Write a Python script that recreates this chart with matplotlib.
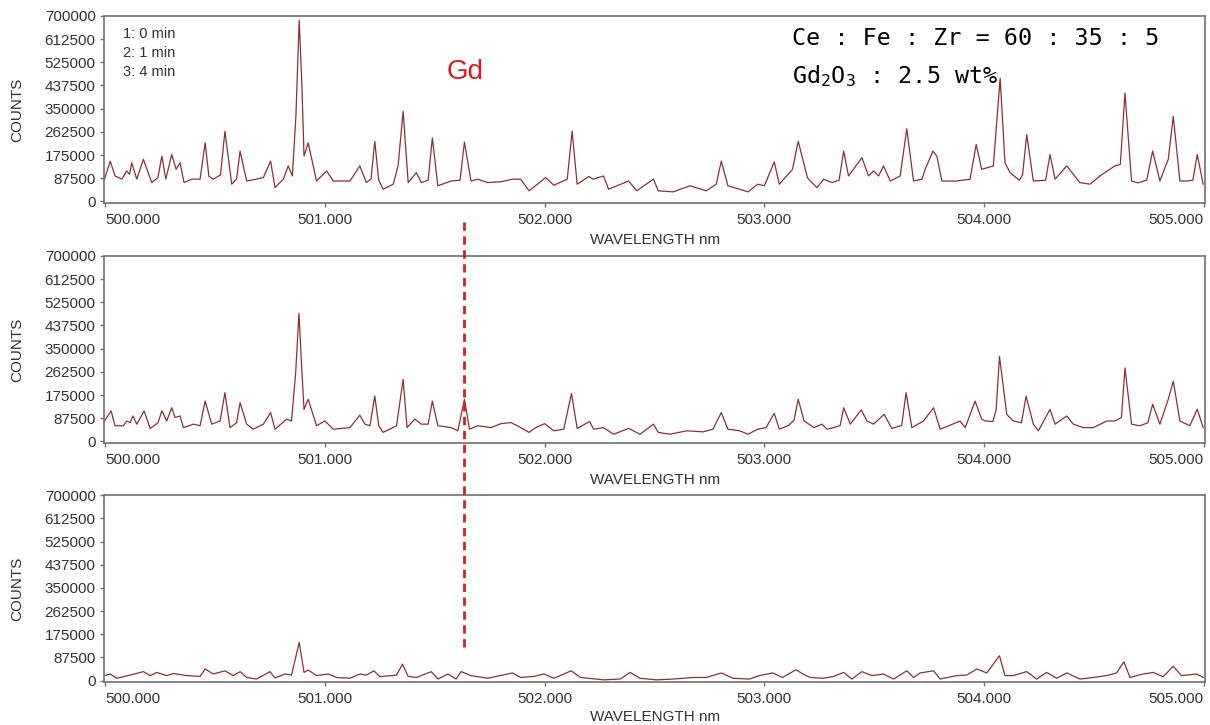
"""
Three stacked emission spectra (0 / 1 / 4 min) around 500-505 nm,
with the Gd line marked by a red dashed guide.
Saved as: out.png
"""
import numpy as np
import matplotlib
matplotlib.use("Agg")
import matplotlib.pyplot as plt
import matplotlib.transforms as mtransforms
from matplotlib.lines import Line2D

plt.rcParams["font.family"] = ["Liberation Sans", "DejaVu Sans"]
plt.rcParams["mathtext.fontset"] = "custom"
plt.rcParams["mathtext.rm"] = "DejaVu Sans Mono"
plt.rcParams["mathtext.it"] = "DejaVu Sans Mono"

LINE_COL = "#8e3030"
SPINE_COL = "#707070"
TEXT_COL = "#333333"
GD_COL = "#e3161b"

# ── Spectrum 1 : 0 min  (wavelength nm, counts in thousands) ──────────────
WL_0MIN = [
    499.997, 500.023, 500.045, 500.076, 500.098, 500.111, 500.121, 500.144, 500.174, 500.212,
    500.240,
    500.258, 500.276, 500.303, 500.323, 500.341, 500.359, 500.394, 500.432, 500.455, 500.472,
    500.492,
    500.525, 500.545, 500.576, 500.598, 500.614, 500.644, 500.689, 500.720, 500.753, 500.773,
    500.811, 500.833,
    500.852, 500.868, 500.883, 500.895, 500.905, 500.924, 500.962, 501.008, 501.038, 501.114,
    501.159, 501.189, 501.210, 501.227, 501.245, 501.265, 501.311, 501.333, 501.356, 501.379,
    501.416, 501.439,
    501.470, 501.489, 501.514, 501.575, 501.615, 501.635, 501.665, 501.695, 501.741, 501.801,
    501.854, 501.891,
    501.929, 502.005, 502.042, 502.103, 502.125, 502.148, 502.201, 502.220, 502.268, 502.291,
    502.382, 502.419, 502.495, 502.517, 502.585, 502.661, 502.736, 502.781, 502.804, 502.834,
    502.887, 502.925, 502.970, 503.000, 503.045, 503.068, 503.128, 503.154, 503.196, 503.209,
    503.239, 503.270, 503.308, 503.340, 503.361, 503.383, 503.444, 503.474, 503.497, 503.520,
    503.542,
    503.573, 503.618, 503.648, 503.679, 503.717, 503.732, 503.767, 503.785, 503.808, 503.876,
    503.936, 503.964, 503.989, 504.042, 504.073, 504.095, 504.118, 504.160, 504.175, 504.194,
    504.224, 504.280, 504.300,
    504.323, 504.376, 504.436, 504.482, 504.527, 504.595, 504.620, 504.641, 504.671, 504.700,
    504.740, 504.767, 504.800,
    504.838, 504.861, 504.891, 504.921, 504.950, 504.970, 504.997,
]
CT_0MIN = [
    84, 152, 96, 84, 115, 102, 146, 84, 159, 71,
    90,
    171, 84, 177, 121, 146, 71, 84, 84, 221, 95,
    84,
    100, 265, 65, 85, 190, 77, 84, 90, 152, 52,
    84, 134,
    96, 321, 684, 446, 171, 221, 77, 115, 77, 77,
    134, 71, 85, 227, 80, 46, 65, 134, 340, 71,
    109, 71,
    80, 240, 59, 77, 80, 224, 77, 84, 71, 74,
    84, 84,
    40, 90, 61, 84, 265, 65, 94, 84, 96, 46,
    77, 40, 84, 40, 36, 59, 40, 65, 152, 59,
    46, 36, 65, 59, 149, 65, 121, 227, 90, 77,
    52, 84, 71, 80, 190, 96, 165, 96, 115, 96,
    134,
    77, 96, 274, 77, 84, 121, 190, 171, 77, 77,
    84, 215, 121, 134, 465, 146, 109, 80, 100, 252,
    77, 80, 177,
    84, 134, 71, 65, 96, 134, 140, 409, 77, 70,
    80, 190, 77,
    159, 321, 77, 77, 80, 177, 65,
]

# ── Spectrum 2 : 1 min ────────────────────────────────────────────────────
WL_1MIN = [
    499.997, 500.027, 500.045, 500.083, 500.098, 500.114, 500.126, 500.144, 500.177, 500.205,
    500.240, 500.258, 500.280, 500.303, 500.318, 500.341, 500.356, 500.402, 500.432, 500.455,
    500.485,
    500.523, 500.545, 500.568, 500.598, 500.614, 500.644, 500.674, 500.720, 500.753, 500.773,
    500.826,
    500.848, 500.867, 500.882, 500.894, 500.905, 500.924, 500.962, 501.000, 501.038, 501.114,
    501.159, 501.182, 501.205, 501.227, 501.245, 501.265, 501.326, 501.356, 501.374, 501.409,
    501.439, 501.470,
    501.489, 501.514, 501.575, 501.605, 501.635, 501.658, 501.695, 501.756, 501.801, 501.846,
    501.876, 501.929, 501.959, 502.000, 502.042, 502.087, 502.122, 502.148, 502.205, 502.223,
    502.268, 502.314, 502.382, 502.434, 502.495, 502.517, 502.570, 502.646, 502.721, 502.766,
    502.804, 502.834, 502.887, 502.925, 502.970, 503.008, 503.045, 503.068, 503.110, 503.135,
    503.154, 503.181,
    503.226, 503.262, 503.285, 503.315, 503.345, 503.361, 503.391, 503.441, 503.467, 503.497,
    503.545,
    503.580, 503.625, 503.645, 503.671, 503.724, 503.770, 503.800, 503.845, 503.891, 503.914,
    503.959,
    503.989, 504.005, 504.040, 504.055, 504.070, 504.103, 504.133, 504.170, 504.191, 504.224,
    504.247, 504.300, 504.323,
    504.376, 504.406, 504.452, 504.497, 504.558, 504.595, 504.625, 504.641, 504.671, 504.709,
    504.745, 504.767,
    504.800, 504.838, 504.861, 504.891, 504.936, 504.970, 504.997,
]
CT_1MIN = [
    77, 115, 59, 59, 77, 71, 96, 65, 115, 49,
    70, 115, 77, 127, 90, 96, 52, 65, 59, 152,
    65,
    77, 184, 52, 70, 146, 65, 46, 65, 109, 46,
    84,
    77, 259, 484, 284, 121, 159, 59, 77, 46, 52,
    99, 65, 59, 171, 60, 34, 59, 234, 52, 84,
    65, 65,
    152, 59, 52, 40, 159, 46, 59, 52, 67, 71,
    59, 34, 52, 67, 40, 46, 181, 49, 75, 46,
    52, 27, 49, 27, 65, 34, 27, 40, 36, 46,
    109, 46, 40, 27, 46, 52, 106, 46, 60, 80,
    159, 77,
    52, 65, 46, 52, 60, 127, 65, 119, 77, 65,
    102,
    49, 60, 184, 52, 77, 127, 46, 61, 77, 52,
    152,
    84, 77, 75, 120, 321, 102, 77, 70, 171, 65,
    40, 121, 65,
    96, 65, 52, 52, 77, 77, 90, 277, 65, 59,
    70, 140,
    65, 159, 227, 77, 59, 121, 52,
]

# ── Spectrum 3 : 4 min ────────────────────────────────────────────────────
WL_4MIN = [
    499.997, 500.023, 500.053, 500.114, 500.174, 500.205, 500.235, 500.280, 500.311, 500.371,
    500.432, 500.455, 500.492, 500.545, 500.583, 500.614, 500.644, 500.689, 500.750, 500.773,
    500.818, 500.848, 500.883, 500.905, 500.924, 500.962, 501.015, 501.053, 501.114, 501.159,
    501.189, 501.223, 501.250, 501.326, 501.353, 501.379, 501.417, 501.484, 501.514, 501.560,
    501.597, 501.620, 501.665, 501.741, 501.854, 501.891, 501.952, 501.997, 502.042, 502.121,
    502.163, 502.268, 502.344, 502.389, 502.434, 502.510, 502.585, 502.676, 502.736, 502.804,
    502.857, 502.932, 502.977, 503.038, 503.083, 503.143, 503.189, 503.209, 503.270, 503.315,
    503.361, 503.398, 503.444, 503.489, 503.542, 503.588, 503.648, 503.679, 503.709, 503.770,
    503.800, 503.876, 503.921, 503.967, 504.012, 504.070, 504.095, 504.133, 504.194, 504.239,
    504.285, 504.330, 504.376, 504.436, 504.497, 504.558, 504.603, 504.636, 504.664, 504.724,
    504.770, 504.815, 504.861, 504.898, 504.967, 504.997,
]
CT_4MIN = [
    19, 25, 9, 21, 34, 19, 31, 19, 27, 19,
    16, 44, 25, 37, 19, 34, 12, 6, 34, 10,
    25, 21, 144, 31, 40, 19, 25, 12, 9, 25,
    21, 37, 15, 21, 62, 16, 12, 34, 6, 25,
    6, 34, 19, 9, 29, 12, 16, 25, 9, 37,
    12, 3, 6, 31, 9, 3, 6, 12, 12, 29,
    9, 6, 19, 29, 12, 41, 19, 12, 9, 16,
    31, 6, 34, 19, 25, 6, 37, 12, 29, 37,
    6, 19, 21, 44, 29, 94, 19, 19, 34, 6,
    31, 9, 29, 6, 12, 19, 29, 71, 12, 25,
    31, 15, 54, 19, 25, 12,
]

SPECTRA = [(WL_0MIN, CT_0MIN), (WL_1MIN, CT_1MIN), (WL_4MIN, CT_4MIN)]
LEGEND_LINES = ["1: 0 min", "2: 1 min", "3: 4 min"]
GD_WAVELENGTH = 501.635
Y_TICKS = np.arange(0, 700001, 87500)
X_TICKS = [500, 501, 502, 503, 504, 505]

# ── Figure layout ─────────────────────────────────────────────────────────
fig = plt.figure(figsize=(12.1, 7.25), dpi=100, facecolor="white")
positions = [
    [0.086, 0.720, 0.910, 0.258],
    [0.086, 0.389, 0.910, 0.258],
    [0.086, 0.059, 0.910, 0.258],
]
xlabel_y = [-0.16, -0.16, -0.148]
axes = [fig.add_axes(p) for p in positions]

for ax, (wl, ct), ly in zip(axes, SPECTRA, xlabel_y):
    ax.plot(wl, np.array(ct) * 1000, color=LINE_COL, linewidth=0.9)
    ax.set_xlim(499.995, 505.006)
    ax.set_ylim(-6000, 700000)
    ax.set_yticks(Y_TICKS)
    ax.set_yticklabels([f"{v:d}" for v in Y_TICKS])
    ax.set_xticks(X_TICKS)
    ax.set_xticklabels([f"{v:.3f}" for v in X_TICKS])
    xl = ax.get_xticklabels()
    xl[0].set_ha("left")
    xl[-1].set_ha("right")
    ax.tick_params(labelsize=11, colors=SPINE_COL, labelcolor=TEXT_COL,
                   length=3, width=1, pad=3)
    ax.tick_params(axis="x", pad=4)
    for spine in ax.spines.values():
        spine.set_edgecolor(SPINE_COL)
        spine.set_linewidth(1.2)
    ax.set_ylabel("COUNTS", fontsize=11, color=TEXT_COL)
    ax.yaxis.set_label_coords(-0.0725, 0.5)
    ax.set_xlabel("WAVELENGTH nm", fontsize=11, color=TEXT_COL)
    ax.xaxis.set_label_coords(0.5, ly)

# time legend (top-left of first panel)
for i, txt in enumerate(LEGEND_LINES):
    fig.text(123 / 1210, 1 - (34 + 19 * i) / 725, txt, fontsize=10.5,
             color=TEXT_COL, ha="left", va="center")

# Gd label and dashed guide
fig.text(465 / 1210, 1 - 72 / 725, "Gd", fontsize=20, color=GD_COL,
         ha="center", va="center")
trans = mtransforms.blended_transform_factory(axes[0].transData, fig.transFigure)
fig.add_artist(Line2D([GD_WAVELENGTH, GD_WAVELENGTH],
                      [1 - 222 / 725, 1 - 648 / 725],
                      transform=trans, color="#d42020", linewidth=2,
                      linestyle=(0, (3, 2))))

# composition note
fig.text(792 / 1210, 1 - 45 / 725, "Ce : Fe : Zr = 60 : 35 : 5",
         family="DejaVu Sans Mono", fontsize=16.8, color="black",
         ha="left", va="baseline")
fig.text(792 / 1210, 1 - 83 / 725, r"Gd$_2$O$_3$ : 2.5 wt%",
         family="DejaVu Sans Mono", fontsize=16.8, color="black",
         ha="left", va="baseline")

fig.savefig("out.png", dpi=100, facecolor="white")
plt.close(fig)
